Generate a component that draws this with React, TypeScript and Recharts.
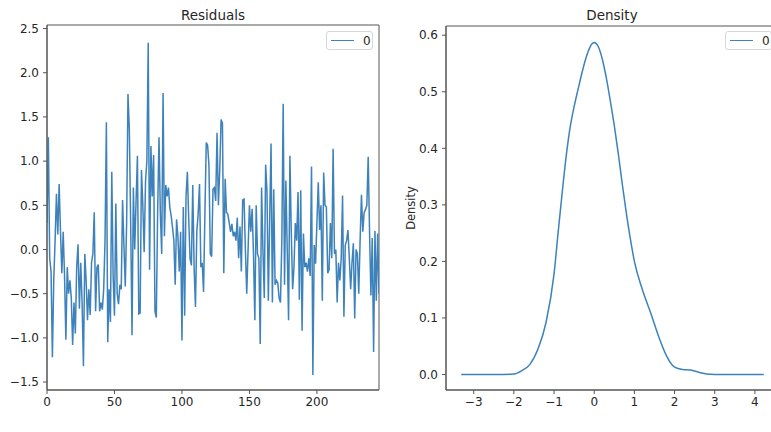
import React from 'react';
import { LineChart, Line, XAxis, YAxis, ReferenceArea, Legend } from 'recharts';

// residuals (index 0..246)
const residuals = [
  0.30, 1.27, -0.10, -0.25, -1.22, -0.35, 0.10, 0.63, 0.17, 0.74,
  0.20, -0.27, 0.20, -0.30, -1.02, -0.20, -0.50, -0.35, -0.55, -1.08,
  -0.60, -0.95, -0.20, 0.06, -0.67, -0.15, -0.60, -1.32, -0.05, -0.35,
  -0.80, -0.45, -0.74, -0.15, -0.05, 0.42, -0.70, -0.20, -0.17, -0.70,
  -0.60, -0.68, -0.45, 0.10, 1.44, -1.05, -0.45, -0.82, 0.88, -0.30,
  -0.75, 0.52, -0.50, -0.62, -0.40, -0.45, 0.56, 0.05, -0.42, 0.30,
  1.76, 1.36, 0.30, -0.97, 0.70, 0.00, 0.55, 1.06, -0.73, -0.72,
  0.90, 0.50, -0.03, 0.77, 1.00, 2.34, -0.23, 1.17, 0.60, 1.07,
  -0.70, -0.77, 0.45, 1.27, 0.40, -0.05, 1.77, 0.15, 0.73, 0.60,
  0.70, 0.48, 0.38, 0.25, 0.10, -0.40, 0.34, 0.15, -0.25, 0.20,
  -1.03, 0.48, -0.75, 0.60, 0.88, 0.35, -0.10, -0.18, 0.73, -0.20,
  -0.65, 0.20, 0.40, 0.74, -0.20, -0.15, -0.48, 0.40, 1.21, 1.18,
  0.95, -0.05, -0.08, 0.68, 0.70, 0.55, 1.32, 0.50, 0.90, 1.47,
  1.43, -0.27, 0.80, 0.42, 0.40, 0.30, 0.20, 0.29, 0.15, 0.20,
  0.10, 0.36, -0.10, 0.26, -0.25, 0.56, 0.57, 0.00, -0.50, 0.00,
  0.50, 0.20, 0.46, -0.05, -0.80, 0.50, -0.05, -0.10, -1.07, 0.70,
  0.00, -0.55, 0.96, 0.65, -0.58, 0.34, 1.20, -0.60, 0.68, -0.40,
  -0.35, -0.38, -0.55, -0.60, 0.10, 1.65, -0.40, 0.78, 0.00, -0.80,
  1.06, 0.20, -0.45, -0.20, 0.30, 0.10, 0.65, -0.57, 0.67, -0.92,
  0.18, -0.20, -0.15, -0.25, -0.10, -0.30, 0.94, -1.42, 0.05, -0.16,
  0.30, 0.76, 0.22, 0.50, -0.58, 0.87, 0.50, 0.48, -0.27, -0.23,
  0.30, -0.10, 1.14, -0.05, 0.00, -0.60, -0.15, -0.35, -0.10, 0.61,
  -0.76, 0.05, 0.10, 0.22, -0.10, -0.45, -0.15, 0.07, -0.78, 0.00,
  -0.05, -0.50, 0.10, 0.62, 0.20, 0.42, 0.45, 0.50, 1.05, 0.20,
  -0.52, 0.13, -1.16, 0.21, -0.58, 0.18, -0.50,
];

// density curve
const densityX = [
  -3.31, -2.8, -2.4, -2.0, -1.8, -1.6, -1.4, -1.2, -1.0, -0.9, -0.8, -0.7, -0.6,
  -0.5, -0.4, -0.3, -0.2, -0.1, 0.0, 0.1, 0.2, 0.3, 0.4, 0.5, 0.6, 0.7, 0.8, 0.9,
  1.0, 1.2, 1.4, 1.6, 1.8, 2.0, 2.2, 2.4, 2.6, 2.8, 3.2, 3.8, 4.22,
];
const densityY = [
  0, 0, 0, 0.001, 0.007, 0.018, 0.045, 0.092, 0.178, 0.25, 0.32, 0.385, 0.437,
  0.474, 0.505, 0.535, 0.561, 0.58, 0.587, 0.58, 0.558, 0.525, 0.484, 0.44, 0.39, 0.336, 0.285, 0.24,
  0.2, 0.15, 0.11, 0.068, 0.033, 0.013, 0.009, 0.008, 0.004, 0.001, 0, 0, 0,
];

const residualTicksX = [0, 50, 100, 150, 200];
const residualTicksY = [-1.5, -1.0, -0.5, 0.0, 0.5, 1.0, 1.5, 2.0, 2.5];
const densityTicksX = [-3, -2, -1, 0, 1, 2, 3, 4];
const densityTicksY = [0, 0.1, 0.2, 0.3, 0.4, 0.5, 0.6];

const residualData = residuals.map((v, i) => ({ idx: i, value: v }));
const densityData = densityX.map((x, i) => ({ x, y: densityY[i] }));

const LINE = '#3d82ba';
const AXIS = '#555';
const TEXT = '#262626';
const FONT = '"DejaVu Sans", sans-serif';

const minus = (s: string) => s.replace('-', '\u2212');
const tick = { fill: TEXT, fontSize: 12, fontFamily: FONT };

const LegendBox = () => (
  <div
    style={{
      border: '1px solid #d6d6d6',
      borderRadius: 3,
      background: '#fff',
      width: 45,
      height: 17,
      display: 'flex',
      alignItems: 'center',
      fontFamily: FONT,
      fontSize: 12,
      color: TEXT,
    }}
  >
    <div style={{ width: 23, height: 0, borderTop: `1.5px solid ${LINE}`, marginLeft: 4 }} />
    <span style={{ marginLeft: 9 }}>0</span>
  </div>
);

const title = (text: string, left: number) => (
  <div
    style={{
      position: 'absolute',
      top: 7,
      left: left - 60,
      width: 120,
      textAlign: 'center',
      fontFamily: FONT,
      fontSize: 13.5,
      color: TEXT,
    }}
  >
    {text}
  </div>
);

export default function App() {
  return (
    <div
      style={{
        position: 'absolute',
        left: 0,
        top: 0,
        width: 771,
        height: 432,
        overflow: 'hidden',
        background: '#fff',
      }}
    >
      {title('Residuals', 213)}
      {title('Density', 612)}

      <div style={{ position: 'absolute', left: 0, top: 0 }}>
        <LineChart
          width={390}
          height={432}
          data={residualData}
          margin={{ top: 25, right: 11, bottom: 3, left: 7 }}
        >
          <XAxis
            dataKey="idx"
            type="number"
            domain={[0, 246]}
            ticks={residualTicksX}
            height={20}
            tick={tick}
            tickSize={4}
            tickMargin={3}
            stroke={AXIS}
            allowDataOverflow
          />
          <YAxis
            type="number"
            domain={[-1.59, 2.54]}
            ticks={residualTicksY}
            width={40}
            tick={tick}
            tickSize={4}
            tickMargin={4}
            stroke={AXIS}
            tickFormatter={(v: number) => minus(v.toFixed(1))}
            allowDataOverflow
          />
          <ReferenceArea x1={0} x2={246} y1={-1.59} y2={2.54} fill="none" stroke={AXIS} />
          <Legend
            content={() => <LegendBox />}
            wrapperStyle={{ left: 326, top: 31, width: 47 }}
          />
          <Line
            dataKey="value"
            name="0"
            stroke={LINE}
            strokeWidth={1.5}
            dot={false}
            type="linear"
            isAnimationActive={false}
          />
        </LineChart>
      </div>

      <div style={{ position: 'absolute', left: 390, top: 0 }}>
        <LineChart
          width={400}
          height={432}
          data={densityData}
          margin={{ top: 26, right: 11, bottom: 3, left: 11 }}
        >
          <XAxis
            dataKey="x"
            type="number"
            domain={[-3.69, 4.6]}
            ticks={densityTicksX}
            height={20}
            tick={tick}
            tickSize={4}
            tickMargin={3}
            stroke={AXIS}
            tickFormatter={(v: number) => minus(String(v))}
            allowDataOverflow
          />
          <YAxis
            type="number"
            domain={[-0.0274, 0.6163]}
            ticks={densityTicksY}
            width={45}
            tick={tick}
            tickSize={4}
            tickMargin={4}
            stroke={AXIS}
            tickFormatter={(v: number) => v.toFixed(1)}
            label={{
              value: 'Density',
              angle: -90,
              position: 'insideLeft',
              offset: 10,
              style: { textAnchor: 'middle', fill: TEXT, fontSize: 11.5, fontFamily: FONT },
            }}
            allowDataOverflow
          />
          <ReferenceArea x1={-3.69} x2={4.6} y1={-0.0274} y2={0.6163} fill="none" stroke={AXIS} />
          <Legend
            content={() => <LegendBox />}
            wrapperStyle={{ left: 335, top: 31, width: 47 }}
          />
          <Line
            dataKey="y"
            name="0"
            stroke={LINE}
            strokeWidth={1.5}
            dot={false}
            type="monotone"
            isAnimationActive={false}
          />
        </LineChart>
      </div>
    </div>
  );
}
